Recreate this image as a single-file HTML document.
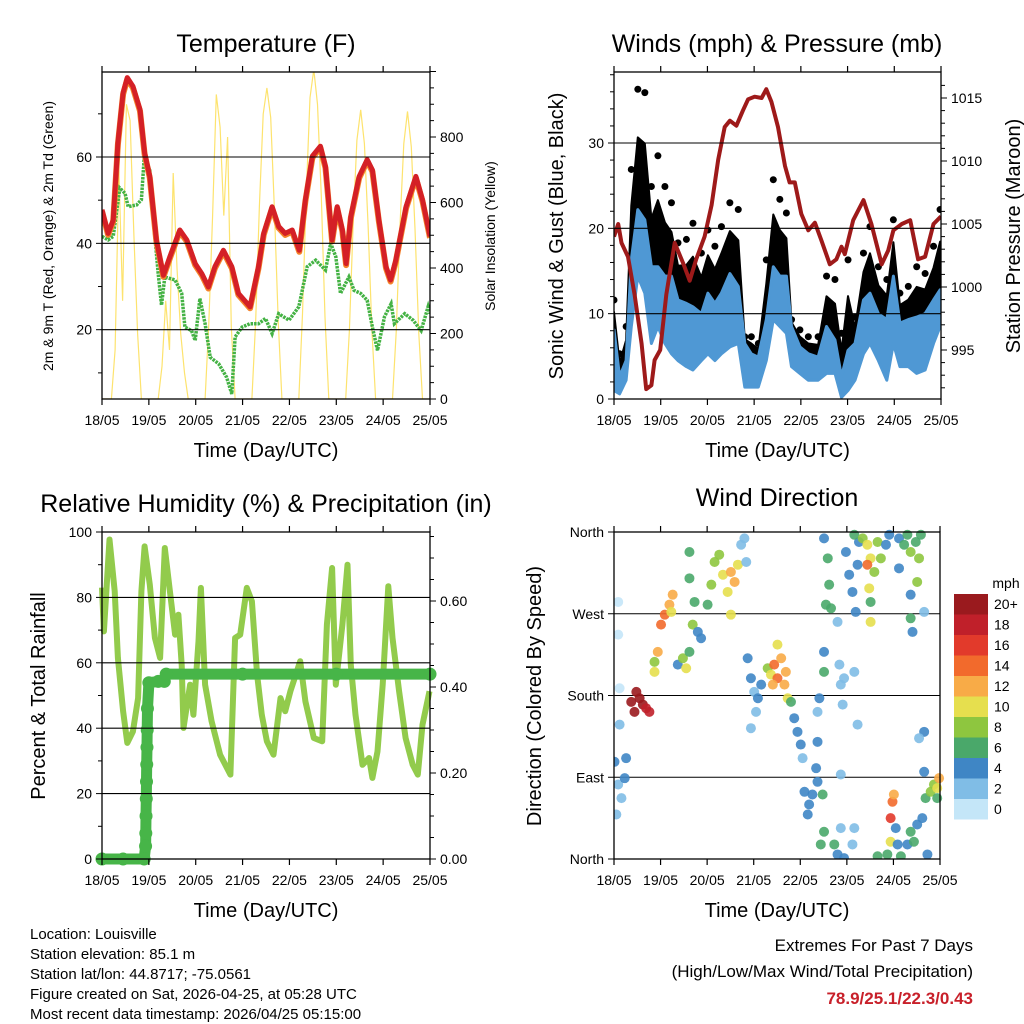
<!DOCTYPE html>
<html><head><meta charset="utf-8"><style>
html,body{margin:0;padding:0;background:#fff;}
svg{display:block;font-family:"Liberation Sans",Arial,sans-serif;}
</style></head><body>
<svg id="chart" width="1024" height="1024" viewBox="0 0 1024 1024" xmlns="http://www.w3.org/2000/svg">
<rect width="1024" height="1024" fill="#fff"/>
</svg>
<script>
// ---------- DATA ----------
const dayLabels = ["18/05","19/05","20/05","21/05","22/05","23/05","24/05","25/05"];
// Temperature (F)
const tempTime = [0,.13,.24,.34,.45,.54,.66,.81,.91,1.02,1.16,1.31,1.45,1.66,1.81,1.99,2.13,2.27,2.41,2.59,2.77,2.91,3.16,3.34,3.45,3.63,3.77,3.91,4.06,4.21,4.34,4.49,4.66,4.77,4.91,5.02,5.13,5.21,5.31,5.49,5.66,5.77,5.91,6.06,6.16,6.27,6.49,6.70,6.84,7.0];
const tempVals = [47.8,42.3,45.4,63.3,74.9,78.4,76.4,71,61,55.5,40.8,32.6,36.9,43.1,40.8,35.3,33,29.9,34.6,38.4,34.6,28.4,25.3,34.6,42.3,48.5,43.9,42.3,43.1,38.4,50.1,60.2,62.5,57.8,40.8,48.5,43.1,35.3,46.2,55.5,59.4,57,45.4,34.6,31.5,36.1,48.5,55.5,50.1,41.6];
const dewTime = [0,.13,.24,.38,.49,.56,.74,.84,.9,1.02,1.09,1.2,1.27,1.34,1.56,1.7,1.77,1.91,1.99,2.09,2.2,2.31,2.49,2.66,2.77,2.84,2.99,3.16,3.34,3.49,3.63,3.77,3.99,4.2,4.38,4.56,4.77,4.88,4.99,5.09,5.27,5.38,5.52,5.66,5.77,5.88,6.03,6.17,6.24,6.46,6.64,6.81,6.96,7.0];
const dewVals = [41.6,40.8,41.6,52.8,51.6,48.5,48.9,50.1,59.8,57,46.2,33,25.7,32.2,31.5,28.4,20.6,19.8,17.5,27.2,21.4,13.6,12.1,9,5.1,18.3,20.6,21.4,21.4,22.6,19.1,23.7,22.2,25.3,34.6,36.1,33.8,40,36.9,28.4,32.2,29.1,28.4,26.8,20.6,15.2,23,26,21.4,23.7,22.2,19.8,25.3,23.7];
// Solar insolation (W/m2)
const solarTime = [0,.2,.28,.36,.44,.52,.6,.68,.76,.84,1.2,1.28,1.36,1.44,1.52,1.6,1.68,1.76,1.84,2.2,2.28,2.36,2.44,2.52,2.6,2.68,2.76,2.84,3.2,3.28,3.36,3.44,3.52,3.6,3.68,3.76,3.84,4.2,4.28,4.36,4.44,4.52,4.6,4.68,4.76,4.84,5.2,5.28,5.36,5.44,5.52,5.6,5.68,5.76,5.84,6.2,6.28,6.36,6.44,6.52,6.6,6.68,6.76,6.84,7.0];
const solarVals = [0,0,150,700,300,900,850,500,200,0,0,100,300,150,690,400,200,80,0,0,230,560,930,830,560,800,220,0,0,240,590,870,950,860,580,240,0,0,260,630,920,1006,900,620,250,0,0,210,540,790,883,780,530,210,0,0,210,530,780,878,770,520,200,0,0];
// Winds (mph)
const windTime = [0,.12,.26,.37,.51,.66,.8,.94,1.09,1.23,1.37,1.55,1.69,1.87,2.01,2.16,2.3,2.48,2.66,2.8,2.94,3.09,3.26,3.41,3.55,3.69,3.8,3.98,4.16,4.37,4.55,4.73,4.87,5.01,5.16,5.34,5.48,5.66,5.84,5.98,6.12,6.3,6.48,6.66,6.84,6.98];
const windLo = [1,.6,2.2,8.5,14.4,12.4,6.5,8.5,6.5,5.3,4.5,3.8,3.4,4.5,5.3,4.5,5.3,6.1,6.5,1.4,1.4,1.4,4.5,9.3,8.5,7.7,3.8,3,2.2,2.2,3,3,.2,1,2.2,5.3,6.5,4.5,2.2,6.5,3.8,3.8,3,3.4,6.5,8.5];
const windHi = [8.1,2.6,4.5,16.3,22.2,21,15.5,15.5,14.4,14.4,11.6,11.2,10.8,10,12.4,11.2,12.4,14.7,13.2,6.5,5.3,4.9,9.3,15.5,14.4,14.4,8.5,6.1,5.3,4.9,8.5,6.9,2.6,5.7,6.5,11.6,12.4,10,9.3,14.4,8.9,9.3,9.6,10,11.6,12.8];
const gustVals = [11.6,5.3,8.5,26.9,36.3,35.9,24.9,28.5,24.9,23,18.3,18.7,20.6,17.1,19.8,17.9,20.2,23,22.2,7.3,7.3,6.5,16.3,25.7,23.4,21.8,9.3,8.1,7.3,7.3,14.4,14,7.7,16.3,9.6,17.1,20.2,15.5,14,21,12.4,13.2,15.5,14.7,17.9,22.2];
// Pressure (mb)
const presTime = [0,.09,.16,.3,.44,.59,.69,.8,.87,.99,1.12,1.3,1.48,1.62,1.76,1.94,2.09,2.23,2.37,2.48,2.62,2.76,2.87,3.01,3.16,3.26,3.37,3.51,3.66,3.76,3.87,4.01,4.16,4.3,4.44,4.62,4.76,4.87,4.94,5.12,5.34,5.51,5.73,5.87,5.98,6.16,6.34,6.51,6.66,6.84,7.0];
const presVals = [1004,1005,1003.5,1002.4,999.4,995.5,991.9,992.2,994.2,995,999.4,1003.5,1001.9,1000.5,1002.2,1004,1006.5,1010.1,1012.7,1013.2,1012.8,1014,1014.9,1015.1,1015,1015.7,1014.7,1012.7,1009.6,1008.3,1008.3,1005.8,1004.5,1005.1,1003.7,1001.8,1002.2,1003.2,1002.6,1005.3,1006.9,1005,1001.8,1002.9,1004.5,1005,1005.3,1002.2,1002.4,1005,1005.6];
// Relative humidity (%)
const rhTime = [0,.04,.16,.27,.34,.45,.54,.66,.77,.84,.91,1.02,1.13,1.24,1.34,1.45,1.56,1.63,1.7,1.74,1.88,1.95,2.06,2.11,2.2,2.34,2.52,2.74,2.84,2.95,3.09,3.2,3.31,3.41,3.52,3.66,3.81,3.91,4.02,4.16,4.23,4.34,4.52,4.7,4.8,4.91,4.99,5.13,5.24,5.31,5.41,5.56,5.7,5.77,5.88,5.99,6.11,6.2,6.34,6.48,6.63,6.74,6.84,6.99];
const rhVals = [83,69.6,97.7,81.9,61.5,45.2,35.5,39,49.2,81.9,95.6,83.9,67.6,61.5,95.1,81.9,68.6,74.7,59.4,40.1,53.3,44.1,66.6,82.9,53.3,42.1,31.9,25.8,67.6,68.6,82.9,78.8,56.4,44.1,36,31.9,49.2,45.2,51.3,57.4,60.5,48.2,37,36,71.7,89,53.3,71.7,90,59.4,44.1,28.8,30.9,24.8,32.9,53.3,83.4,67.6,51.3,37,28.8,25.8,41.1,51.3];
// Total rainfall (in)
const rainTime = [0,.45,.9,.93,.935,.94,.945,.95,.955,.96,.965,.97,1.0,1.2,1.33,1.37,3,5,7.0];
const rainVals = [0,0,0,.03,.06,.1,.14,.18,.22,.26,.3,.35,.41,.413,.413,.43,.43,.43,.43];
// Wind direction (deg) and speed (mph)
const dirTime = [.01,.09,.16,.23,.26,.05,.12,.09,.09,.12,.37,.48,.55,.62,.69,.76,.44,.87,.94,1.01,1.09,1.19,1.26,1.23,.87,1.37,1.48,1.55,1.62,1.69,1.80,1.87,1.73,1.62,1.62,2.01,2.09,2.16,2.26,2.34,2.44,2.51,2.59,2.66,2.51,2.73,2.80,2.84,2.87,2.94,3.01,3.09,3.16,3.05,2.94,3.30,3.37,3.44,3.51,3.59,3.51,3.66,3.73,3.41,3.69,3.80,3.87,3.94,4.01,4.05,4.09,4.19,4.26,4.37,4.16,4.34,4.48,4.37,4.37,4.44,4.51,4.41,4.51,4.59,4.62,4.66,4.55,4.51,4.51,4.80,4.73,4.80,4.87,4.94,4.84,4.87,4.91,4.94,5.16,5.23,5.16,5.12,4.87,4.98,5.05,5.12,5.19,5.23,5.26,5.16,5.34,5.44,5.51,5.59,5.48,5.51,5.66,5.73,5.84,5.91,5.51,5.44,5.66,5.87,5.94,5.98,5.94,6.01,6.05,6.09,6.16,6.12,6.23,6.30,6.37,6.48,6.55,6.51,6.59,6.12,6.37,6.41,6.66,6.37,6.30,6.37,6.44,6.51,6.62,6.66,6.69,6.73,6.66,6.55,6.80,6.87,6.94,6.98,6.94];
const dirDeg = [107,82,67,89,111,49,148,247,283,188,173,184,177,170,166,162,162,206,228,258,269,280,291,272,217,214,221,210,228,258,250,243,283,309,338,280,302,327,335,313,294,316,305,324,269,346,353,327,221,199,184,177,192,162,144,210,203,214,199,221,236,192,177,192,206,173,155,140,126,111,74,60,71,85,49,100,71,162,129,16,30,177,353,331,302,276,280,228,206,261,16,5,34,1,214,192,170,199,206,148,34,16,93,338,313,294,272,324,349,357,353,346,331,316,298,283,349,331,346,357,261,324,3,5,19,63,45,71,34,16,3,353,346,357,338,349,331,305,357,320,291,250,272,265,16,30,19,38,45,96,67,5,140,133,74,82,78,89,67];
const dirSpd = [4,3,2,4,4,2,2,1,1,1,20,20,20,20,18,18,20,10,12,14,14,12,12,10,8,4,8,10,6,8,4,4,6,6,6,6,8,8,8,10,10,12,12,10,10,2,2,2,4,4,2,4,4,2,2,8,10,14,14,12,10,12,10,12,12,6,4,4,4,2,4,4,4,4,4,4,6,2,4,6,6,4,4,6,6,6,6,4,6,2,6,4,2,4,2,2,2,2,2,2,2,2,2,4,4,4,4,4,4,6,8,10,10,8,10,6,8,8,4,4,10,14,6,6,10,14,16,12,4,4,6,4,6,6,8,6,8,8,6,4,4,4,2,6,4,6,6,4,4,4,6,4,4,2,8,8,10,12,6];
const speedColors = ["#c4e6f8","#80bde6","#3f86c5","#4aa86a","#8ec63f","#e6df4e","#f8ab47","#f26a2c","#e23a2b","#c0202a","#9a1a1e"];
const speedLabels = ["0","2","4","6","8","10","12","14","16","18","20+"];

// ---------- HELPERS ----------
const NS="http://www.w3.org/2000/svg";
const svg=document.getElementById("chart");
function el(tag,attrs,parent){const e=document.createElementNS(NS,tag);for(const k in attrs)e.setAttribute(k,attrs[k]);(parent||svg).appendChild(e);return e;}
function txt(s,x,y,size,anchor,parent,extra){const t=el("text",Object.assign({x:x,y:y,"font-size":size,"text-anchor":anchor||"middle",fill:"#000"},extra||{}),parent);t.textContent=s;return t;}
function lin(d0,d1,r0,r1){return v=>r0+(v-d0)*(r1-r0)/(d1-d0);}
function pathFrom(ts,vs,sx,sy){return ts.map((t,i)=>(i?"L":"M")+sx(t).toFixed(1)+","+sy(vs[i]).toFixed(1)).join("");}

function panel(name,X0,X1,Y0,Y1){
  const g=el("g",{});
  
  
  return {g,X0,X1,Y0,Y1,sx:lin(0,7,X0,X1)};
}
function frame(p){
  const r=el("rect",{x:p.X0,y:p.Y0,width:p.X1-p.X0,height:p.Y1-p.Y0,fill:"none",stroke:"#000","stroke-width":1.3},p.g);
  
  
  for(let d=0;d<=7;d++){
    const x=p.sx(d);
    el("line",{x1:x,x2:x,y1:p.Y1,y2:p.Y1+6,stroke:"#000","stroke-width":1.2},p.g);
    el("line",{x1:x,x2:x,y1:p.Y0,y2:p.Y0-6,stroke:"#000","stroke-width":1.2},p.g);
    const t=txt(dayLabels[d],x,p.Y1+26,14,"middle",p.g);
    
    
  }
  const xt=txt("Time (Day/UTC)",(p.X0+p.X1)/2,p.Y1+58,20,"middle",p.g);
  
  
}
function yAxis(p,sy,min,max,major,minor,labels,side,fs,grid){
  const x=side==="left"?p.X0:p.X1, dir=side==="left"?-1:1;
  for(let v=min;v<=max+1e-9;v+=minor){
    const y=sy(v); if(y<p.Y0-0.5||y>p.Y1+0.5)continue;
    const isMaj=Math.abs(v/major-Math.round(v/major))<1e-6;
    el("line",{x1:x,x2:x+dir*(isMaj?6:4),y1:y,y2:y,stroke:"#000","stroke-width":1},p.g);
  }
  labels.forEach(l=>{
    const y=sy(l.v);
    const t=txt(l.s,x+dir*10,y+5,fs,side==="left"?"end":"start",p.g);
    
    
    if(grid){const gl=el("line",{x1:p.X0,x2:p.X1,y1:y,y2:y,stroke:"#000","stroke-width":1.1},p.g);
      
      }
  });
}
function vtitle(s,x,y,fs,p,name){
  const t=txt(s,x,y,fs,"middle",p.g,{transform:"rotate(-90 "+x+" "+y+")"});
  
  
}
function title(s,x,y,p){const t=txt(s,x,y,25,"middle",p.g);
  
  }

// ---------- PANEL 1: TEMPERATURE ----------
{
const p=panel("temperature-panel",102,430,72,399);
const sy=lin(20,60,329.7,157);
const ss=lin(0,800,399,137);
title("Temperature (F)",266,52,p);
const clip=el("clipPath",{id:"c1"},p.g);el("rect",{x:p.X0,y:p.Y0,width:p.X1-p.X0,height:p.Y1-p.Y0},clip);
const dg=el("g",{"clip-path":"url(#c1)"},p.g);
const sol=el("path",{d:pathFrom(solarTime,solarVals,p.sx,ss),fill:"none",stroke:"#fde36e","stroke-width":1.2},dg);


const dew=el("path",{d:pathFrom(dewTime,dewVals,p.sx,sy),fill:"none",stroke:"#44b244","stroke-width":3.5,"stroke-dasharray":"2.5 1"},dg);


const t9=el("path",{d:pathFrom(tempTime,tempVals,p.sx,v=>sy(v)+1.5),fill:"none",stroke:"#f4822a","stroke-width":6,"stroke-linejoin":"round"},dg);


const t2=el("path",{d:pathFrom(tempTime,tempVals,p.sx,sy),fill:"none",stroke:"#d42026","stroke-width":5,"stroke-linejoin":"round"},dg);


yAxis(p,sy,0,80,20,10,[{v:20,s:"20"},{v:40,s:"40"},{v:60,s:"60"}],"left",14,true);
yAxis(p,ss,0,1000,200,50,[{v:0,s:"0"},{v:200,s:"200"},{v:400,s:"400"},{v:600,s:"600"},{v:800,s:"800"}],"right",14,false);
frame(p);
vtitle("2m & 9m T (Red, Orange) & 2m Td (Green)",53,236,14,p,"left-y-axis-title");
vtitle("Solar Insolation (Yellow)",495,236,14,p,"right-y-axis-title");
}

// ---------- PANEL 2: WINDS ----------
{
const p=panel("winds-panel",614,941,72,399);
const sy=lin(0,30,399,143);
const sp=lin(995,1015,350,98);
title("Winds (mph) & Pressure (mb)",777,52,p);
const clip=el("clipPath",{id:"c2"},p.g);el("rect",{x:p.X0,y:p.Y0-3,width:p.X1-p.X0,height:p.Y1-p.Y0+6},clip);
const dg=el("g",{"clip-path":"url(#c2)"},p.g);
const gustMid=gustVals.map((g,i)=>windHi[i]+0.6*(g-windHi[i]));
const gb=el("path",{d:pathFrom(windTime,gustMid,p.sx,sy)+pathFrom(windTime.slice().reverse(),windHi.slice().reverse(),p.sx,sy).replace("M","L")+"Z",fill:"#000",stroke:"#000","stroke-width":2,"stroke-linejoin":"round"},dg);


windTime.forEach((t,i)=>{
  const c=el("circle",{cx:p.sx(t),cy:sy(gustVals[i]),r:3.5,fill:"#000"},dg);
  
  
});
const wb=el("path",{d:pathFrom(windTime,windHi,p.sx,sy)+pathFrom(windTime.slice().reverse(),windLo.slice().reverse(),p.sx,sy).replace("M","L")+"Z",fill:"#4f98d4",stroke:"#4f98d4","stroke-width":3,"stroke-linejoin":"round"},dg);


yAxis(p,sy,0,38,10,2,[{v:0,s:"0"},{v:10,s:"10"},{v:20,s:"20"},{v:30,s:"30"}],"left",14,true);
const pr=el("path",{d:pathFrom(presTime,presVals,p.sx,sp),fill:"none",stroke:"#9e1a1a","stroke-width":4,"stroke-linejoin":"round"},dg);


yAxis(p,sp,992,1016,5,1,[{v:995,s:"995"},{v:1000,s:"1000"},{v:1005,s:"1005"},{v:1010,s:"1010"},{v:1015,s:"1015"}],"right",14,false);
frame(p);
vtitle("Sonic Wind & Gust (Blue, Black)",563,236,20,p,"left-y-axis-title");
vtitle("Station Pressure (Maroon)",1020,236,20,p,"right-y-axis-title");
}

// ---------- PANEL 3: RH & RAIN ----------
{
const p=panel("humidity-precip-panel",102,430,532,859);
const sy=lin(0,100,859,532);
const sr=lin(0,.2,859,773);
title("Relative Humidity (%) & Precipitation (in)",266,512,p);
const clip=el("clipPath",{id:"c3"},p.g);el("rect",{x:p.X0-8,y:p.Y0,width:p.X1-p.X0+16,height:p.Y1-p.Y0+8},clip);
const dg=el("g",{"clip-path":"url(#c3)"},p.g);
yAxis(p,sy,0,100,20,10,[{v:0,s:"0"},{v:20,s:"20"},{v:40,s:"40"},{v:60,s:"60"},{v:80,s:"80"},{v:100,s:"100"}],"left",14,true);
const rh=el("path",{d:pathFrom(rhTime,rhVals,p.sx,sy),fill:"none",stroke:"#92cb4c","stroke-width":6,"stroke-linejoin":"round"},dg);


const rn=el("path",{d:pathFrom(rainTime,rainVals,p.sx,sr),fill:"none",stroke:"#47b548","stroke-width":11,"stroke-linecap":"round","stroke-linejoin":"round"},dg);


rainTime.forEach((t,i)=>{
  const c=el("circle",{cx:p.sx(t),cy:sr(rainVals[i]),r:6.5,fill:"#47b548"},dg);
  
  
});
yAxis(p,sr,0,.76,.2,.05,[{v:0,s:"0.00"},{v:.2,s:"0.20"},{v:.4,s:"0.40"},{v:.6,s:"0.60"}],"right",14,false);
frame(p);
vtitle("Percent & Total Rainfall",45,696,20,p,"left-y-axis-title");
}

// ---------- PANEL 4: WIND DIRECTION ----------
{
const p=panel("wind-direction-panel",614,940,532,859);
const sy=lin(0,360,859,532);
title("Wind Direction",777,506,p);
yAxis(p,sy,0,360,90,90,[{v:0,s:"North"},{v:90,s:"East"},{v:180,s:"South"},{v:270,s:"West"},{v:360,s:"North"}],"left",14,true);
const clip=el("clipPath",{id:"c4"},p.g);el("rect",{x:p.X0,y:p.Y0-6,width:p.X1-p.X0+6,height:p.Y1-p.Y0+6},clip);
const dg=el("g",{"clip-path":"url(#c4)"},p.g);
dirTime.forEach((t,i)=>{
  const idx=Math.min(10,Math.floor(dirSpd[i]/2));
  const c=el("circle",{cx:p.sx(t),cy:sy(dirDeg[i]),r:5,fill:speedColors[idx],"fill-opacity":0.9},dg);
  
  
});
frame(p);
vtitle("Direction (Colored By Speed)",541,696,20,p,"left-y-axis-title");
const cb=el("g",{});


txt("mph",1006,588,14,"middle",cb);
for(let i=0;i<11;i++){
  const k=10-i, y=594+i*20.5;
  const r=el("rect",{x:954,y:y,width:34,height:20.5,fill:speedColors[k]},cb);
  
  
  const t=txt(speedLabels[k],994,y+15,14,"start",cb);
  
  
}
}

// ---------- FOOTER TEXT ----------
const info=["Location: Louisville","Station elevation: 85.1 m","Station lat/lon: 44.8717; -75.0561","Figure created on Sat, 2026-04-25, at 05:28 UTC","Most recent data timestamp: 2026/04/25 05:15:00"];
info.forEach((s,i)=>{
  const t=txt(s,30,939+i*20,15,"start");
  
  
});
const e1=txt("Extremes For Past 7 Days",973,951,17,"end");


const e2=txt("(High/Low/Max Wind/Total Precipitation)",973,977,17,"end");


const e3=txt("78.9/25.1/22.3/0.43",973,1004,17,"end",null,{fill:"#c8202a","font-weight":"bold"});


</script>
</body></html>
